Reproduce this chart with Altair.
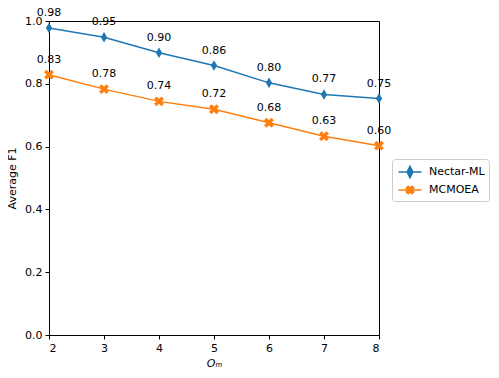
import math
import altair as alt
import pandas as pd

# ---- data ----
om_values = [2, 3, 4, 5, 6, 7, 8]
nectar_ml = [0.978, 0.948, 0.899, 0.858, 0.803, 0.766, 0.753]
mcmoea = [0.829, 0.783, 0.744, 0.719, 0.676, 0.633, 0.603]
series_names = ["Nectar-ML", "MCMOEA"]
series_colors = ["#1f77b4", "#ff7f0e"]
y_ticks = [0.0, 0.2, 0.4, 0.6, 0.8, 1.0]

rows = []
for name, vals in zip(series_names, [nectar_ml, mcmoea]):
    for x, v in zip(om_values, vals):
        rows.append({"Om": x, "F1": v, "series": name})
df = pd.DataFrame(rows)


# ---- marker shapes (custom paths in the [-1, 1] box) ----
def fmt(v):
    return f"{v:.3f}"


def x_polygon(scale, arm):
    # filled "X": a plus sign rotated by 45 degrees
    pts = [(1, arm), (arm, arm), (arm, 1), (-arm, 1), (-arm, arm), (-1, arm),
           (-1, -arm), (-arm, -arm), (-arm, -1), (arm, -1), (arm, -arm), (1, -arm)]
    c = math.cos(math.pi / 4)
    out = []
    for px, py in pts:
        rx = (px - py) * c * scale
        ry = (px + py) * c * scale
        out.append((rx, ry))
    return "M" + "L".join(f"{fmt(a)},{fmt(b)}" for a, b in out) + "Z"


diamond_pt = "M0,-1L0.6,0L0,1L-0.6,0Z"
xmark_pt = x_polygon(1.0, 0.33)
marker_paths = [diamond_pt, xmark_pt]

# legend symbols: line segment + marker (symbol size 256 -> 8px per unit)
diamond_leg = "M-1.44,0H1.44M0,-0.72L0.36,0L0,0.72L-0.36,0Z"
xmark_leg = "M-1.44,0H1.44" + x_polygon(0.5, 0.33)

color_scale = alt.Scale(domain=series_names, range=series_colors)

base = alt.Chart(df).encode(
    x=alt.X("Om:Q", title="Oₘ",
            scale=alt.Scale(domain=[2, 8], nice=False, zero=False),
            axis=alt.Axis(values=om_values, format="d", titleFontStyle="italic",
                          titlePadding=4)),
    y=alt.Y("F1:Q", title="Average F1",
            scale=alt.Scale(domain=[0, 1], nice=False),
            axis=alt.Axis(values=y_ticks, format=".1f", titlePadding=7)),
)

lines = base.mark_line(strokeWidth=1.5).encode(
    color=alt.Color("series:N", scale=color_scale, legend=None),
    detail="series:N",
)

point_layers = []
for name, path in zip(series_names, marker_paths):
    point_layers.append(
        base.transform_filter(alt.datum.series == name)
        .mark_point(filled=True, opacity=1, size=110, shape=path)
        .encode(color=alt.Color("series:N", scale=color_scale, legend=None))
    )

labels = base.mark_text(dy=-15, fontSize=11, font="DejaVu Sans", color="black").encode(
    text=alt.Text("F1:Q", format=".2f"),
)


def leg():
    return alt.Legend(orient="none", legendX=343, legendY=138, symbolSize=256,
                      symbolOpacity=1, symbolOffset=5, title=None)


# legend-only layer: no marks drawn, only its legend shows
legend_layer = base.transform_filter("false").mark_point(filled=True, size=256).encode(
    fill=alt.Fill("series:N", scale=alt.Scale(domain=series_names, range=series_colors),
                  legend=leg()),
    stroke=alt.Stroke("series:N", scale=alt.Scale(domain=series_names, range=series_colors),
                      legend=leg()),
    shape=alt.Shape("series:N",
                    scale=alt.Scale(domain=series_names, range=[diamond_leg, xmark_leg]),
                    legend=leg()),
)

chart = alt.layer(lines, *point_layers, labels, legend_layer).resolve_scale(
    fill="independent", stroke="independent", shape="independent"
).properties(
    width=330,
    height=314,
    autosize=alt.AutoSizeParams(type="none"),
    padding={"left": 41, "top": 13, "right": 112, "bottom": 35},
).configure(
    font="DejaVu Sans",
).configure_view(
    stroke="black", strokeWidth=1,
).configure_axis(
    grid=False,
    domainColor="black", domainWidth=1,
    tickColor="black", tickWidth=1, tickSize=4,
    labelColor="black", labelFontSize=11, labelPadding=3,
    titleColor="black", titleFontSize=11, titleFontWeight="normal",
    labelFont="DejaVu Sans", titleFont="DejaVu Sans",
).configure_legend(
    strokeColor="#cccccc", fillColor="white", cornerRadius=3, padding=4,
    labelFontSize=11, labelColor="black", labelFont="DejaVu Sans",
    symbolStrokeWidth=1.5, symbolSize=256, symbolOpacity=1, rowPadding=0,
    labelOffset=10,
)

chart.save("out.html", embed_options={"renderer": "svg", "actions": False})
